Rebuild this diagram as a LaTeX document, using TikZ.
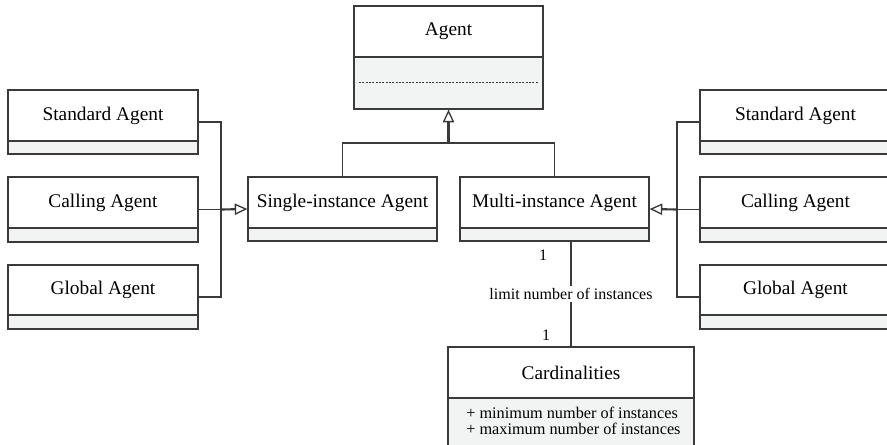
\documentclass[tikz,border=0pt]{standalone}
\usepackage{fontspec}
\setmainfont{Liberation Serif}
\usetikzlibrary{arrows.meta,fit}

\definecolor{umlline}{HTML}{3A3A3A}
\definecolor{compfill}{HTML}{F2F3F3}

\tikzset{
  x=0.75pt, y=-0.75pt,
  conn/.style={draw=umlline, line width=0.9pt},
  boxframe/.style={draw=umlline, line width=0.9pt, inner sep=0pt, fill=none},
  boxtitle/.style={font=\fontsize{14.5}{17}\selectfont, inner sep=0pt, text=black},
  attrtext/.style={font=\fontsize{12.2}{12}\selectfont, inner sep=0pt, align=left, text=black},
  assoclabel/.style={font=\fontsize{12}{14}\selectfont, fill=white, inner sep=2pt, text=black},
  multlabel/.style={font=\fontsize{12}{14}\selectfont, inner sep=0pt, text=black},
  genline/.style={draw=umlline, line width=1.6pt,
    -{Triangle[open, length=9.5pt, width=8.5pt, line width=1pt]}},
}

% class box: name, x1, y1, x2, y2, divider y, title
\newcommand{\umlbox}[7]{%
  \fill[compfill] (#2,#3) rectangle (#4,#5);
  \fill[white] (#2,#3) rectangle (#4,#6);
  \draw[conn] (#2,#6) -- (#4,#6);
  \node[boxframe, fit={(#2,#3) (#4,#5)}] (#1) {};
  \node[boxtitle] (#1-title) at ({(#2+#4)/2},{(#3+#6)/2}) {#7};
}

\begin{document}
\begin{tikzpicture}
\useasboundingbox (0,0) rectangle (887,445);

% top class
\umlbox{agent}{354}{6}{543}{109}{57}{Agent}
\draw[draw=umlline, line width=0.6pt, dash pattern=on 1.6pt off 0.9pt] (359,82) -- (538,82);

% left column
\umlbox{stdL}{8}{90}{198}{154}{141}{Standard Agent}
\umlbox{calL}{8}{177}{198}{242}{228}{Calling Agent}
\umlbox{glbL}{8}{265}{198}{329}{315}{Global Agent}

% middle row
\umlbox{single}{248}{177}{437}{241}{228}{Single-instance Agent}
\umlbox{multi}{460}{177}{649}{241}{228}{Multi-instance Agent}

% right column
\umlbox{stdR}{700}{90}{891}{154}{141}{Standard Agent}
\umlbox{calR}{700}{177}{891}{242}{228}{Calling Agent}
\umlbox{glbR}{700}{265}{891}{329}{315}{Global Agent}

% cardinalities class
\umlbox{card}{448}{347}{694}{447}{398}{Cardinalities}
\node[attrtext, anchor=west] (card-attrs) at (466,421)
  {+ minimum number of instances\\+ maximum number of instances};

% generalization to Agent
\coordinate (tee) at (448.5,143);
\draw[conn] (single.north) |- (tee) -| (multi.north);
\draw[genline] (tee) -- (agent.south);

% left bus into Single-instance Agent
\coordinate (busL) at (221,209.5);
\draw[conn] (stdL.east) -| (busL);
\draw[conn] (glbL.east) -| (busL);
\draw[conn] (calL.east) -- (busL);
\draw[genline] (busL) -- (single.west);

% right bus into Multi-instance Agent
\coordinate (busR) at (677,209.5);
\draw[conn] (stdR.west) -| (busR);
\draw[conn] (glbR.west) -| (busR);
\draw[conn] (calR.west) -- (busR);
\draw[genline] (busR) -- (multi.east);

% association Multi-instance Agent -- Cardinalities
\draw[conn] (card.north |- multi.south) -- node[assoclabel] (assoc) {limit number of instances} (card.north);
\node[multlabel] (mult-top) at (543,255) {1};
\node[multlabel] (mult-bot) at (546,335) {1};
\end{tikzpicture}
\end{document}
